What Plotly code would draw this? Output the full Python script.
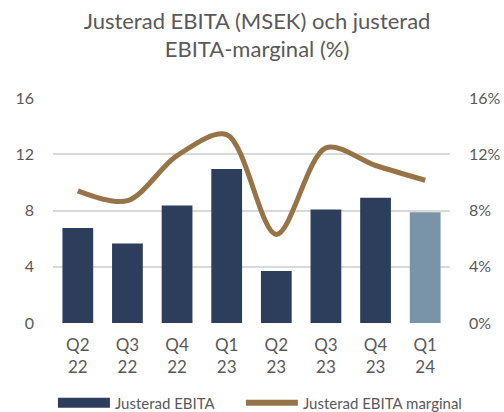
import plotly.graph_objects as go

categories = ["Q2<br>22", "Q3<br>22", "Q4<br>22", "Q1<br>23", "Q2<br>23", "Q3<br>23", "Q4<br>23", "Q1<br>24"]
ebita = [6.75, 5.65, 8.35, 10.95, 3.7, 8.07, 8.9, 7.88]
margin_pct = [9.4, 8.7, 11.9, 13.4, 6.3, 12.45, 11.2, 10.15]

navy = "#2D3E5C"
light = "#7993A9"
gold = "#977448"
grey = "#595959"
font_family = "Lato, 'Noto Sans', sans-serif"

bar_colors = [navy] * (len(categories) - 1) + [light]

fig = go.Figure()
fig.add_trace(go.Bar(x=categories, y=ebita, marker=dict(color=bar_colors, line=dict(width=0)),
                     showlegend=False, name="Justerad EBITA", yaxis="y"))
fig.add_trace(go.Scatter(x=categories, y=margin_pct, mode="lines", yaxis="y2",
                         line=dict(color=gold, width=5, shape="spline", smoothing=0.9),
                         showlegend=False, name="Justerad EBITA marginal"))
# legend entries
fig.add_trace(go.Scatter(x=[None], y=[None], mode="lines", name="Justerad EBITA",
                         line=dict(color=navy, width=14), legend="legend"))
fig.add_trace(go.Scatter(x=[None], y=[None], mode="lines", name="Justerad EBITA marginal",
                         line=dict(color=gold, width=6), legend="legend2"))

legend_common = dict(orientation="h", yref="container", y=0.022, yanchor="middle",
                     xref="container", xanchor="left", font=dict(size=15, color=grey),
                     itemwidth=52, bgcolor="rgba(0,0,0,0)")

fig.update_layout(
    width=504, height=412,
    margin=dict(l=53, r=54, t=98, b=89, autoexpand=False),
    paper_bgcolor="white", plot_bgcolor="white",
    font=dict(family=font_family, color=grey, size=16),
    title=dict(text="Justerad EBITA (MSEK) och justerad<br>EBITA-marginal (%)",
               x=0.51, xanchor="center", y=0.93, yanchor="top",
               font=dict(size=22, color=grey)),
    bargap=0.38,
    xaxis=dict(showgrid=False, showline=False, tickfont=dict(size=17), ticklabelstandoff=10),
    yaxis=dict(range=[0, 16], tickvals=[0, 4, 8, 12, 16], showgrid=True, gridcolor="#D9D9D9",
               gridwidth=1.5, zeroline=False, showline=False, ticklabelstandoff=18,
               tickfont=dict(size=16)),
    yaxis2=dict(range=[0, 16], tickvals=[0, 4, 8, 12, 16], ticktext=["0%", "4%", "8%", "12%", "16%"],
                overlaying="y", side="right", showgrid=False, zeroline=False, showline=False,
                ticklabelstandoff=18, tickfont=dict(size=16)),
    legend=dict(x=0.105, **legend_common),
    legend2=dict(x=0.478, **legend_common),
)

fig.write_html("out.html", config={"displayModeBar": False},
               post_script="document.body.style.margin='0';document.body.style.overflow='hidden';")
